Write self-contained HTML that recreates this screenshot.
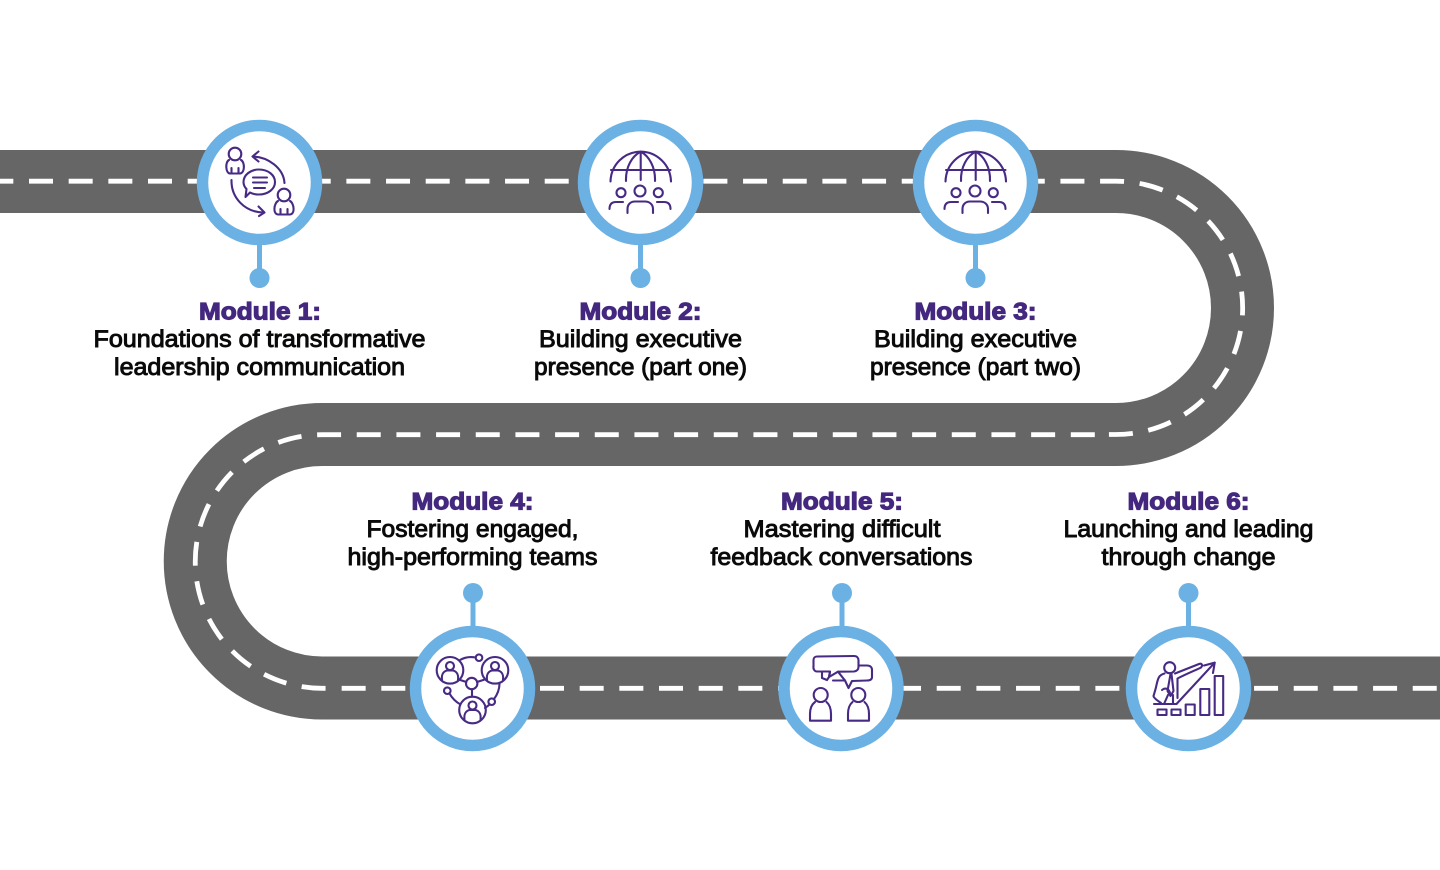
<!DOCTYPE html>
<html lang="en">
<head>
<meta charset="utf-8">
<title>Leadership roadmap</title>
<style>
html,body{margin:0;padding:0;background:#fff;width:1440px;height:870px;overflow:hidden}
svg{display:block}
text{font-family:"Liberation Sans",Arial,sans-serif;text-anchor:middle}
.h{font-size:24px;font-weight:700;fill:#44287f;stroke:#44287f;stroke-width:1.15px}
.b{font-size:24px;font-weight:400;fill:#0a0a0a;stroke:#0a0a0a;stroke-width:.95px}
.ic{fill:none;stroke:#472a84;stroke-width:2.1;stroke-linecap:round;stroke-linejoin:round}
.d{fill:none;stroke:#fff;stroke-width:4.8;stroke-dasharray:24 15.67}
</style>
</head>
<body>
<svg width="1440" height="870" viewBox="0 0 1440 870" xmlns="http://www.w3.org/2000/svg">
<rect width="1440" height="870" fill="#fff"/>

<!-- Road -->
<path d="M0 181.500H1116A126.500 126.500 0 0 1 1116 434.500H322A126.750 126.750 0 0 0 322 688H1440" fill="none" stroke="#666" stroke-width="63"/>
<path class="d" d="M0 181.200H1116A126.650 126.650 0 0 1 1116 434.500H1102" stroke-dashoffset="-29" style="stroke-dashoffset:-29"/>
<path class="d" d="M1094.800 434.700H322A126.800 126.800 0 0 0 322 688.300H332"/>
<path class="d" d="M341.650 688.300H1440"/>

<!-- Stems and dots -->
<g fill="#6cb1e3" stroke="none">
<rect x="257" y="240" width="5" height="38"/><circle cx="259.500" cy="278" r="10"/>
<rect x="638" y="240" width="5" height="38"/><circle cx="640.500" cy="278" r="10"/>
<rect x="973" y="240" width="5" height="38"/><circle cx="975.500" cy="278" r="10"/>
<rect x="470.500" y="593" width="5" height="38"/><circle cx="473" cy="593" r="10"/>
<rect x="839.500" y="593" width="5" height="38"/><circle cx="842" cy="593" r="10"/>
<rect x="1186" y="593" width="5" height="38"/><circle cx="1188.500" cy="593" r="10"/>
</g>

<!-- Rings -->
<g fill="#fff" stroke="#6cb1e3" stroke-width="11.500">
<circle cx="259.500" cy="182.500" r="57"/>
<circle cx="640.500" cy="182.500" r="57"/>
<circle cx="975.500" cy="182.500" r="57"/>
<circle cx="472.500" cy="688.500" r="57"/>
<circle cx="841" cy="688.500" r="57"/>
<circle cx="1188.500" cy="688.500" r="57"/>
</g>

<!-- Icon 1 -->
<g class="ic">
<circle cx="235" cy="154" r="6.300"/>
<path d="M229 160C225 162 225.500 173 230 173.500H240C245 173 245 162 241 160"/>
<path d="M231.500 168v5M238.500 168v5"/>
<path d="M259 169.500C268 169.500 275 175 275 182C275 189 268 194.500 259 194.500C255.500 194.500 252.500 194 250 192.500L245.500 197L246.500 189C244.500 187 243.500 184.500 243.500 182C243.500 175 250.500 169.500 259 169.500Z"/>
<path d="M253 177.500H267M253 182.500H267M254 188H265"/>
<circle cx="284" cy="195" r="6.300"/>
<path d="M278 201C274 203 272.500 214 278 214.500H290C295.500 214 294 203 290 201"/>
<path d="M280.500 209v5M287.500 209v5"/>
<path d="M284.500 183C283.500 168 268 157 253 156.500"/>
<path d="M258.500 151.500L252.500 156.500L258.500 161.500"/>
<path d="M231.500 180C231 198 245 212 263 212.500"/>
<path d="M258.500 206.500L264.500 212.500L259 216"/>
</g>

<!-- Icon 2 -->
<g class="ic">
<path d="M610.500 181.500C611 165 624 151.700 640.700 151.700C657 151.700 670.500 165 671 181.500"/>
<path d="M611 170H670.500"/>
<path d="M626 181C625.500 167 632 156 640.700 151.700C649 156 655.500 167 655 181"/>
<path d="M640.700 151.700V180"/>
<circle cx="621" cy="192.700" r="4.500"/>
<circle cx="640" cy="191" r="5.500"/>
<circle cx="658.300" cy="192.700" r="4.500"/>
<path d="M627.500 213V209C627.500 204 631 201.500 635 201.500H645C649 201.500 653 204 653 209V213"/>
<path d="M609.500 209C609.500 204 612 202 616 202H623"/>
<path d="M670.500 209C670.500 204 668 202 664 202H657"/>
</g>
<!-- Icon 3 -->
<g class="ic" transform="translate(335 0)">
<path d="M610.500 181.500C611 165 624 151.700 640.700 151.700C657 151.700 670.500 165 671 181.500"/>
<path d="M611 170H670.500"/>
<path d="M626 181C625.500 167 632 156 640.700 151.700C649 156 655.500 167 655 181"/>
<path d="M640.700 151.700V180"/>
<circle cx="621" cy="192.700" r="4.500"/>
<circle cx="640" cy="191" r="5.500"/>
<circle cx="658.300" cy="192.700" r="4.500"/>
<path d="M627.500 213V209C627.500 204 631 201.500 635 201.500H645C649 201.500 653 204 653 209V213"/>
<path d="M609.500 209C609.500 204 612 202 616 202H623"/>
<path d="M670.500 209C670.500 204 668 202 664 202H657"/>
</g>

<!-- Icon 4 -->
<g class="ic">
<circle cx="450" cy="670.300" r="13.300"/>
<circle cx="495" cy="670.300" r="13.300"/>
<circle cx="472.500" cy="710" r="13.300"/>
<circle cx="471.700" cy="683.500" r="5.700"/>
<circle cx="479" cy="657.700" r="3.300"/>
<circle cx="447.300" cy="690.700" r="3.300"/>
<circle cx="491.700" cy="701.700" r="3.300"/>
<circle cx="450" cy="666" r="4"/><path d="M442 680C441 673 445 671 447 670.500H453C455 671 459 673 458 680"/>
<circle cx="495" cy="666" r="4"/><path d="M487 680C486 673 490 671 492 670.500H498C500 671 504 673 503 680"/>
<circle cx="472.500" cy="705.500" r="4"/><path d="M464.500 719.500C463.500 712.500 467.500 710.500 469.500 710H475.500C477.500 710.500 481.500 712.500 480.500 719.500"/>
<path d="M460 660C465 657 470 656.500 475.700 657.500"/>
<path d="M459.500 679.700L466.300 682M484 679.700L477 682"/>
<path d="M472 689.300V696.700"/>
<path d="M449.500 693.500C452 698 456 702 460.500 704.500"/>
<path d="M499.500 683.500C499.500 690 497 695 494 699"/>
<path d="M485 708C487 706.500 488.500 705.500 489.500 704.500"/>
</g>

<!-- Icon 5 -->
<g class="ic">
<path d="M817 656.500L854 656C857 656 858.500 658 858.500 660.500V667C858.500 669.500 857 671 854 671.500L838 671.700L829 677L830 671.500L817 671.500C814.500 671.500 813 669 813.500 666L813.500 660C813.500 658 815 656.500 817 656.500Z"/>
<path d="M858.500 665.500H867C870 665.500 872 667 872 670V677C872 679.500 870 680.500 867 680.500L852 681L848.500 688L845 680.500L833 680.500"/>
<path d="M822 672L822 678L827 680L829 677L830 672"/>
<path d="M845 680.500L838 671.700"/>
<circle cx="820.700" cy="695" r="7"/>
<path d="M815 702C811 705 810 709 810 714V720.700H831V714C831 709 830 705 826.500 702"/>
<circle cx="858.300" cy="695" r="7"/>
<path d="M852.500 702C849 705 848 709 848 714V720.700H869V714C869 709 868 705 864.500 702"/>
</g>

<!-- Icon 6 -->
<g class="ic">
<rect x="1157.500" y="709.500" width="9" height="5.500"/>
<rect x="1171.500" y="709.500" width="9" height="5.500"/>
<rect x="1185.700" y="704.500" width="9" height="10.500"/>
<rect x="1200.300" y="689" width="9" height="26"/>
<rect x="1214.700" y="676" width="8.500" height="39"/>
<path d="M1154 704H1176.500L1214.700 662.700"/>
<path d="M1204 665.500L1214.700 662.700L1213 673"/>
<circle cx="1169.700" cy="667.700" r="5.500"/>
<path d="M1164.500 673.500C1159 675 1158 678 1156.500 685C1155.500 690 1154 694 1153.500 696C1153.500 698 1158 701 1161 703"/>
<path d="M1175 673.500L1199 664C1202 663 1203 665.500 1201 667.500C1198.500 669 1187 673.500 1177.500 678.500V698"/>
<path d="M1170.500 674L1167.500 691L1170.500 696L1173.500 691L1171.500 674"/>
<path d="M1162 690C1165.500 687 1169 689 1170 693"/>
<path d="M1164 704L1168 695M1173 704V695"/>
</g>

<!-- Labels -->
<text class="h" x="260" y="319.700" textLength="122" lengthAdjust="spacingAndGlyphs">Module 1:</text>
<text class="b" x="259.500" y="347" textLength="332" lengthAdjust="spacingAndGlyphs">Foundations of transformative</text>
<text class="b" x="259.500" y="375" textLength="291" lengthAdjust="spacingAndGlyphs">leadership communication</text>

<text class="h" x="640.500" y="319.700" textLength="122" lengthAdjust="spacingAndGlyphs">Module 2:</text>
<text class="b" x="640.500" y="347" textLength="203" lengthAdjust="spacingAndGlyphs">Building executive</text>
<text class="b" x="640.500" y="375" textLength="213" lengthAdjust="spacingAndGlyphs">presence (part one)</text>

<text class="h" x="975.500" y="319.700" textLength="122" lengthAdjust="spacingAndGlyphs">Module 3:</text>
<text class="b" x="975.500" y="347" textLength="203" lengthAdjust="spacingAndGlyphs">Building executive</text>
<text class="b" x="975.500" y="375" textLength="211" lengthAdjust="spacingAndGlyphs">presence (part two)</text>

<text class="h" x="472.500" y="509.700" textLength="122" lengthAdjust="spacingAndGlyphs">Module 4:</text>
<text class="b" x="472.500" y="537" textLength="212" lengthAdjust="spacingAndGlyphs">Fostering engaged,</text>
<text class="b" x="472.500" y="565" textLength="250" lengthAdjust="spacingAndGlyphs">high-performing teams</text>

<text class="h" x="842" y="509.700" textLength="122" lengthAdjust="spacingAndGlyphs">Module 5:</text>
<text class="b" x="842" y="537" textLength="197" lengthAdjust="spacingAndGlyphs">Mastering difficult</text>
<text class="b" x="841.500" y="565" textLength="262" lengthAdjust="spacingAndGlyphs">feedback conversations</text>

<text class="h" x="1188.500" y="509.700" textLength="122" lengthAdjust="spacingAndGlyphs">Module 6:</text>
<text class="b" x="1188.500" y="537" textLength="250" lengthAdjust="spacingAndGlyphs">Launching and leading</text>
<text class="b" x="1188.500" y="565" textLength="174" lengthAdjust="spacingAndGlyphs">through change</text>
</svg>
</body>
</html>
